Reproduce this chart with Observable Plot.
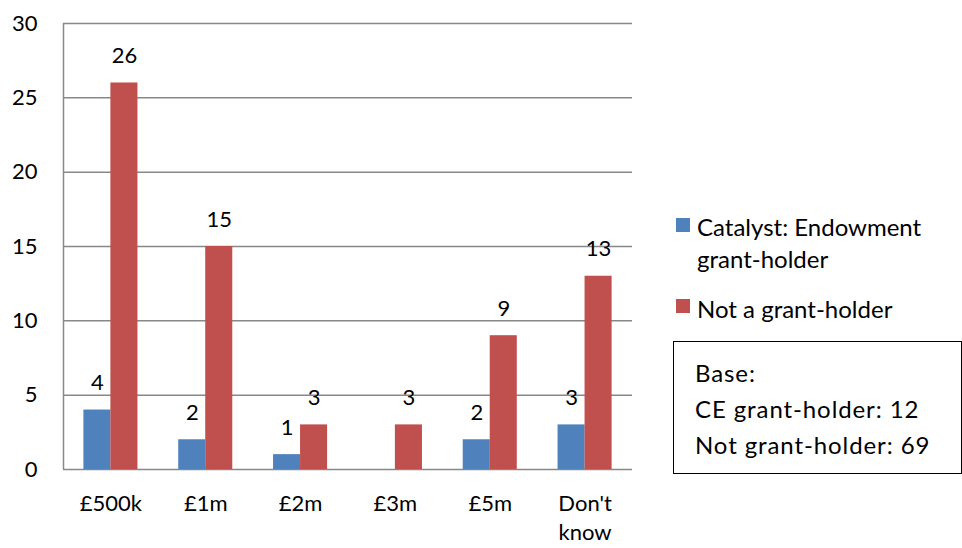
<!DOCTYPE html>
<html>
<head>
<meta charset="utf-8">
<script src="https://cdn.jsdelivr.net/npm/d3@7"></script>
<script src="https://cdn.jsdelivr.net/npm/@observablehq/plot@0.6"></script>
<style>
  html, body { margin: 0; padding: 0; background: #fff; }
  #wrap { position: relative; width: 962px; height: 548px; font-family: Lato, sans-serif; color: #000; }
  #chart { position: absolute; left: 0; top: 0; }
  .leg { position: absolute; font-size: 24px; line-height: 32px; white-space: nowrap; }
  .sw { position: absolute; width: 14px; height: 14px; }
  #base { position: absolute; left: 673px; top: 341px; border: 1.5px solid #000; font-size: 24px; line-height: 36px; letter-spacing: 0.9px; white-space: nowrap; box-sizing: border-box; }
  #base div { padding-left: 21px; }
</style>
</head>
<body>
<div id="wrap">
  <div id="chart"></div>
</div>
<script>
const categories = ["£500k", "£1m", "£2m", "£3m", "£5m", "Don't\nknow"];
const seriesNames = ["Catalyst: Endowment grant-holder", "Not a grant-holder"];
const grantHolder = [4, 2, 1, null, 2, 3];
const notGrantHolder = [26, 15, 3, 3, 9, 13];
const yTicks = [0, 5, 10, 15, 20, 25, 30];
const baseLines = ["Base:", "CE grant-holder: 12", "Not grant-holder: 69"];
const colors = ["#4F81BD", "#C0504D"];

const rows = categories.map((c, i) => ({cat: c, a: grantHolder[i], b: notGrantHolder[i]}));
const bw = 27;
const W = 962, ML = 63, MR = 330;
const step = (W - ML - MR) / categories.length;

const plot = Plot.plot({
  width: W,
  height: 548,
  marginLeft: ML,
  marginRight: MR,
  marginTop: 23,
  marginBottom: 79,
  style: {fontFamily: "Lato, sans-serif", fontSize: "22px", color: "#000", background: "#fff"},
  x: {domain: categories, paddingInner: 0.43, paddingOuter: 0.215, round: false, label: null},
  y: {domain: [0, 30], ticks: yTicks, label: null},
  marks: [
    Plot.ruleY(yTicks, {stroke: "#888", strokeWidth: 1.5}),
    Plot.ruleX([categories[0]], {x: d => d, dx: -step / 2, y1: 0, y2: 30, stroke: "#888", strokeWidth: 1.5}),
    Plot.barY(rows.filter(d => d.a != null), {x: "cat", y: "a", fill: colors[0], insetRight: bw, insetLeft: 0}),
    Plot.barY(rows, {x: "cat", y: "b", fill: colors[1], insetLeft: bw, insetRight: 0}),
    Plot.text(rows.filter(d => d.a != null), {x: "cat", y: "a", text: d => String(d.a), dx: -bw / 2, dy: -27, fontSize: 22, fill: "#000"}),
    Plot.text(rows, {x: "cat", y: "b", text: d => String(d.b), dx: bw / 2, dy: -27, fontSize: 22, fill: "#000"}),
    Plot.axisY({ticks: yTicks, tickSize: 0, tickPadding: 26, fontSize: 22, label: null}),
    Plot.axisX({tickSize: 0, tickPadding: 21, fontSize: 22, lineAnchor: "top", lineHeight: 1.32, label: null})
  ]
});
document.getElementById("chart").appendChild(plot);

const wrap = document.getElementById("wrap");
const leg = [
  {top: 211, sq: 218, text: "Catalyst: Endowment<br>grant-holder"},
  {top: 293, sq: 299, text: seriesNames[1]}
];
leg.forEach((l, i) => {
  const sw = document.createElement("div");
  sw.className = "sw";
  sw.style.left = "676px";
  sw.style.top = l.sq + "px";
  sw.style.background = colors[i];
  wrap.appendChild(sw);
  const t = document.createElement("div");
  t.className = "leg";
  t.style.left = "697px";
  t.style.top = l.top + "px";
  t.innerHTML = l.text;
  wrap.appendChild(t);
});
const box = document.createElement("div");
box.id = "base";
box.style.paddingTop = "13px";
box.style.height = "133px";
box.style.width = "289px";
baseLines.forEach(s => {
  const d = document.createElement("div");
  d.textContent = s;
  box.appendChild(d);
});
wrap.appendChild(box);
</script>
</body>
</html>
